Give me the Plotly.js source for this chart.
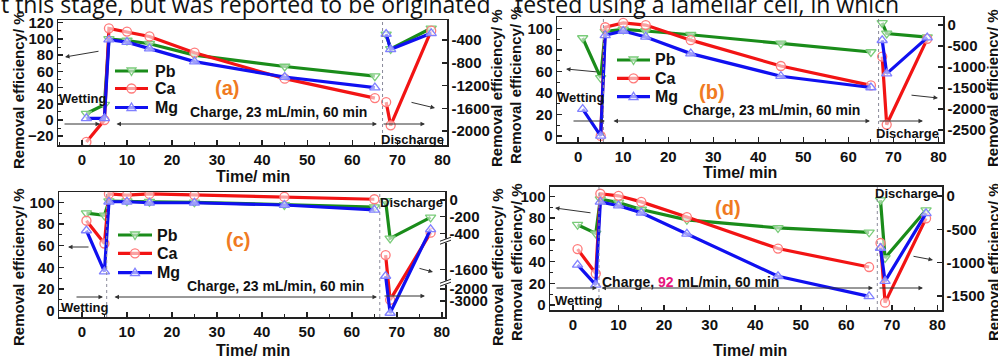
<!DOCTYPE html>
<html><head><meta charset="utf-8">
<script src="https://cdn.plot.ly/plotly-3.0.1.min.js"></script>
<style>html,body{margin:0;padding:0;background:#fff;}#chart{width:998px;height:356px;}</style>
</head><body><div id="chart"></div>
<script>
// ---------- data ----------
const xCharge = [1, 5, 6, 10, 15, 25, 45, 65];      // wetting + charge (left axis)
const xDischarge = [67.5, 68.5, 77.5];               // discharge (right axis)
const ions = ['Pb', 'Ca', 'Mg'];

// panel (a)
const aPbCharge = [8, 19, 100, 98, 94, 80, 66, 54];
const aCaCharge = [-27, 0, 113, 109, 103, 83, 51, 27];
const aMgCharge = [2, 2, 99, 96, 88, 72, 53, 40];
const aPbDischarge = [-300, -555, -194];
const aCaDischarge = [-1492, -1900, -236];
const aMgDischarge = [-294, -564, -283];
// panel (b)
const bPbCharge = [91, 54, 97, 99, 97.5, 94, 86, 78];
const bCaCharge = [null, 0, 101, 105, 103, 89, 65, 47];
const bMgCharge = [25, 0, 93.5, 97.5, 92, 76.5, 55.5, 45];
const bPbDischarge = [50, -202, -290];
const bCaDischarge = [-752, -2370, -330];
const bMgDischarge = [-364, -1157, -300];
// panel (c)  (right axis is broken)
const cPbCharge = [90, 88, 101, 101, 100.5, 100, 97.5, 95.5];
const cCaCharge = [83, 62, 107.7, 106.7, 107.7, 106.7, 105, 102.8];
const cMgCharge = [74, 36, 100.5, 100.5, 99.6, 99.6, 97.5, 93];
const cPbDischarge = [-10, -460, -208];
const cCaDischarge = [-1300, -2900, -392];
const cMgDischarge = [-1773, -4000, -352];
// panel (d)
const dPbCharge = [74, 66, 97.5, 94.5, 88, 78.5, 71, 67];
const dCaCharge = [51.5, 29, 102.5, 100.6, 95, 81, 52, 35];
const dMgCharge = [37, 18.6, 95, 91.5, 85, 65.5, 26.5, 8];
const dPbDischarge = [-60, -928, -210];
const dCaDischarge = [-705, -1600, -335];
const dMgDischarge = [-780, -1277, -260];

// tick labels
const xTickLabels = [0, 10, 20, 30, 40, 50, 60, 70, 80];
const aRightTicks = [-400, -800, -1200, -1600, -2000];
const bRightTicks = [0, -500, -1000, -1500, -2000, -2500];
const cRightTicks = [0, -200, -400, -1600, -2000, -3000];
const dRightTicks = [0, -500, -1000, -1500];

// broken right axis of panel (c): value -> display position (piecewise linear)
const cBreakValues  = [-4400, -3000, -2000, -1946, -1600, -1001, -488, 0, 300];
const cBreakDisplay = [-1414, -1212, -1068, -992, -832, -490, -488, 0, 300];
function mapC(v) {
  if (v === null) return null;
  for (let i = 0; i < cBreakValues.length - 1; i++) {
    const v0 = cBreakValues[i], v1 = cBreakValues[i + 1];
    if (v >= v0 && v <= v1) {
      const t = (v - v0) / (v1 - v0);
      return cBreakDisplay[i] + t * (cBreakDisplay[i + 1] - cBreakDisplay[i]);
    }
  }
  return v;
}

// ---------- styling ----------
const W = 998, H = 356;
const px = x => x / W, py = y => 1 - y / H;
const F = 'Liberation Sans, Arial, sans-serif';
const lineCol = {Pb: '#1a8c1a', Ca: '#f21414', Mg: '#1010f0'};
const mkCol = {Pb: '#7acc7a', Ca: '#ff7a7a', Mg: '#8080ff'};
const sym = {Pb: 'triangle-down', Ca: 'circle', Mg: 'triangle-up'};
const mkFill = 'rgba(255,255,255,0.6)';

const panels = [
  {key: 'a', xa: 'x',  yl: 'y',  yr: 'y2',
   charge: [aPbCharge, aCaCharge, aMgCharge], dis: [aPbDischarge, aCaDischarge, aMgDischarge], map: v => v},
  {key: 'b', xa: 'x2', yl: 'y3', yr: 'y4',
   charge: [bPbCharge, bCaCharge, bMgCharge], dis: [bPbDischarge, bCaDischarge, bMgDischarge], map: v => v},
  {key: 'c', xa: 'x3', yl: 'y5', yr: 'y6',
   charge: [cPbCharge, cCaCharge, cMgCharge], dis: [cPbDischarge, cCaDischarge, cMgDischarge], map: mapC},
  {key: 'd', xa: 'x4', yl: 'y7', yr: 'y8',
   charge: [dPbCharge, dCaCharge, dMgCharge], dis: [dPbDischarge, dCaDischarge, dMgDischarge], map: v => v},
];

const traces = [];
panels.forEach(p => {
  ions.forEach((ion, i) => {
    const style = {
      mode: 'lines+markers',
      line: {color: lineCol[ion], width: 3.2},
      marker: {symbol: sym[ion], size: 9, color: mkFill, line: {color: mkCol[ion], width: 1.3}},
      connectgaps: false, showlegend: false
    };
    traces.push(Object.assign({}, style, {x: xCharge, y: p.charge[i], xaxis: p.xa, yaxis: p.yl, name: ion}));
    traces.push(Object.assign({}, style, {x: xDischarge, y: p.dis[i].map(p.map), xaxis: p.xa, yaxis: p.yr, name: ion}));
  });
});

const tickFont = {family: F, size: 15, color: '#111', weight: 'bold'};
function xAxis(dom, range, anchor) {
  return {domain: dom, range: range, anchor: anchor, showline: true, mirror: true, linecolor: '#222', linewidth: 1.5,
    ticks: 'inside', ticklen: 5, tickwidth: 1.5, tickcolor: '#222', tickvals: xTickLabels,
    minor: {ticks: 'inside', ticklen: 3, tickwidth: 1, tickcolor: '#222', dtick: 5},
    showgrid: false, zeroline: false, tickfont: tickFont, fixedrange: true};
}
function yLeft(dom, range, anchor, tv) {
  return {domain: dom, range: range, anchor: anchor, showline: true, linecolor: '#222', linewidth: 1.5,
    ticks: 'inside', ticklen: 5, tickwidth: 1.5, tickcolor: '#222', tickvals: tv,
    minor: {ticks: 'inside', ticklen: 3, tickwidth: 1, tickcolor: '#222', dtick: 10},
    showgrid: false, zeroline: false, tickfont: tickFont, fixedrange: true};
}
function yRight(over, range, anchor, ticks, mapf) {
  return {overlaying: over, side: 'right', range: range, anchor: anchor, showline: true, linecolor: '#222', linewidth: 1.5,
    ticks: 'inside', ticklen: 5, tickwidth: 1.5, tickcolor: '#222',
    tickvals: ticks.map(mapf), ticktext: ticks.map(String),
    showgrid: false, zeroline: false, tickfont: tickFont, fixedrange: true};
}

const layout = {
  width: W, height: H, margin: {l: 0, r: 0, t: 0, b: 0}, paper_bgcolor: '#fff', plot_bgcolor: '#fff',
  showlegend: false,
  xaxis:  xAxis([px(58), px(447)], [-5.3, 81], 'y'),
  yaxis:  yLeft([py(145), py(20)], [-30.8, 123.3], 'x', [-20, 0, 20, 40, 60, 80, 100, 120]),
  yaxis2: yRight('y', [-2246, -48], 'x', aRightTicks, v => v),
  xaxis2: xAxis([px(557), px(943)], [-4.7, 81], 'y3'),
  yaxis3: yLeft([py(142), py(17)], [-5.6, 110.5], 'x2', [0, 20, 40, 60, 80, 100]),
  yaxis4: yRight('y3', [-2786, 190], 'x2', bRightTicks, v => v),
  xaxis3: xAxis([px(59), px(445)], [-5.1, 80.7], 'y5'),
  yaxis5: yLeft([py(317), py(192)], [-5.8, 109.5], 'x3', [0, 20, 40, 60, 80, 100]),
  yaxis6: yRight('y5', [-1404, 96], 'x3', cRightTicks, mapC),
  xaxis4: xAxis([px(550), px(942)], [-5.05, 81], 'y7'),
  yaxis7: yLeft([py(310), py(186.7)], [-4.6, 109], 'x4', [0, 20, 40, 60, 80, 100]),
  yaxis8: yRight('y7', [-1710, 140], 'x4', dRightTicks, v => v),
  annotations: [],
  shapes: []
};

const A = layout.annotations, S = layout.shapes;
function txt(t, x, y, size, color, extra) {
  A.push(Object.assign({text: t, x: px(x), y: py(y), xref: 'paper', yref: 'paper', xanchor: 'center', yanchor: 'middle',
    showarrow: false, font: {family: F, size: size, color: color || '#111', weight: 'bold'}}, extra || {}));
}
function arrow(tx, ty, tipx, tipy, both) {
  A.push({text: '', x: px(tipx), y: py(tipy), xref: 'paper', yref: 'paper', ax: tx - tipx, ay: ty - tipy,
    showarrow: true, arrowhead: 2, arrowsize: 0.9, arrowwidth: 1, arrowcolor: '#333', arrowside: both ? 'end+start' : 'end',
    standoff: 0, startstandoff: 0});
}
function ytitle(x, y) {
  txt('Removal efficiency/ %', x, y, 15, '#111', {textangle: -90});
}
function vdot(xref, yref, xv) {
  S.push({type: 'line', xref: xref, yref: yref + ' domain', x0: xv, x1: xv, y0: 0, y1: 1,
    line: {color: '#8a8a9a', width: 1, dash: 'dot'}});
}
// hand-drawn legend (line sample + open marker + label)
function markerPath(ion, cx, cy) {
  const r = 4.5;
  if (ion === 'Pb') return `M${px(cx - r)},${py(cy - 3)} L${px(cx + r)},${py(cy - 3)} L${px(cx)},${py(cy + 4.5)} Z`;
  if (ion === 'Mg') return `M${px(cx - r)},${py(cy + 3)} L${px(cx + r)},${py(cy + 3)} L${px(cx)},${py(cy - 4.5)} Z`;
  return null;
}
function legend(x0, x1, ys, tx) {
  ions.forEach((ion, i) => {
    const y = ys[i], cx = (x0 + x1) / 2;
    S.push({type: 'line', xref: 'paper', yref: 'paper', x0: px(x0), x1: px(x1), y0: py(y), y1: py(y),
      line: {color: lineCol[ion], width: 3.2}, layer: 'above'});
    if (ion === 'Ca') {
      S.push({type: 'circle', xref: 'paper', yref: 'paper', x0: px(cx - 4.5), x1: px(cx + 4.5), y0: py(y + 4.5), y1: py(y - 4.5),
        fillcolor: mkFill, line: {color: mkCol[ion], width: 1.3}, layer: 'above'});
    } else {
      S.push({type: 'path', xref: 'paper', yref: 'paper', path: markerPath(ion, cx, y),
        fillcolor: mkFill, line: {color: mkCol[ion], width: 1.3}, layer: 'above'});
    }
    txt(ion, tx, y, 16, '#111', {xanchor: 'left'});
  });
}

// top text (cut-off running text of the page)
const bodyFont = {family: 'Open Sans, Noto Sans, sans-serif', size: 23, color: '#111'};
txt('t this stage, but was reported to be originated', -1, 4, 23, '#111', {xanchor: 'left', font: bodyFont});
txt('tested using a lamellar cell, in which', 513, 4, 23, '#111', {xanchor: 'left', font: bodyFont});

// axis titles
ytitle(18, 90); ytitle(497, 88); ytitle(516, 85); ytitle(993, 88);
ytitle(18, 267); ytitle(497, 267); ytitle(516, 262); ytitle(993, 262);
txt('Time/ min', 253, 177, 16); txt('Time/ min', 740, 172, 16);
txt('Time/ min', 253, 350, 16); txt('Time/ min', 750, 350, 16);

const orange = '#f07a22';
// panel (a)
legend(115, 148, [71, 88.5, 107.5], 153);
txt('Wetting', 82, 98, 13); txt('(a)', 227, 88, 20, orange);
txt('Charge, 23 mL/min, 60 min', 278, 112, 14); txt('Discharge', 412, 139, 13);
arrow(63, 124, 100, 124); arrow(115, 124, 377, 124, true); arrow(382, 124, 425, 124);
arrow(100, 51, 65, 57); arrow(410, 102, 435, 108);
vdot('x', 'y', 66.7);
// panel (b)
legend(617, 650, [60, 78.3, 96.7], 653);
txt('Wetting', 580, 97, 13); txt('(b)', 712, 92, 20, orange);
txt('Charge, 23 mL/min, 60 min', 771, 110, 14); txt('Discharge', 907, 133, 13);
arrow(572, 121, 605, 121); arrow(612, 121, 870, 121, true); arrow(878, 121, 923, 121);
arrow(598, 72, 566, 69); arrow(910, 95, 938, 98);
vdot('x2', 'y3', 5.6); vdot('x2', 'y3', 66.7);
// panel (c)
legend(118, 152, [235, 253.3, 272.7], 155);
txt('Wetting', 84, 307, 13); txt('(c)', 238, 240, 20, orange);
txt('Charge, 23 mL/min, 60 min', 275, 286, 14); txt('Discharge', 411, 202, 13);
arrow(75, 297, 103, 297); arrow(113, 297, 377, 297, true); arrow(383, 296, 425, 296);
arrow(90, 247, 68, 247); arrow(418, 268, 433, 272);
vdot('x3', 'y5', 5.5); vdot('x3', 'y5', 66.2);
// broken-axis marks on the right axis of (c)
[240.7, 282.7].forEach(yb => {
  S.push({type: 'rect', xref: 'paper', yref: 'paper', x0: px(443), x1: px(448), y0: py(yb + 2), y1: py(yb - 2),
    fillcolor: '#fff', line: {width: 0}, layer: 'above'});
  S.push({type: 'line', xref: 'paper', yref: 'paper', x0: px(440), x1: px(451), y0: py(yb + 0.5), y1: py(yb - 3.5),
    line: {color: '#222', width: 1}, layer: 'above'});
  S.push({type: 'line', xref: 'paper', yref: 'paper', x0: px(440), x1: px(451), y0: py(yb + 3.5), y1: py(yb - 0.5),
    line: {color: '#222', width: 1}, layer: 'above'});
});
// panel (d)
txt('Wetting', 578, 300, 13); txt('(d)', 728, 208, 20, orange);
txt('Charge, <span style="color:#e8157d">92</span> mL/min, 60 min', 690, 282, 14); txt('Discharge', 906, 193, 13);
arrow(555, 288, 597, 288); arrow(600, 288, 873, 288, true); arrow(878, 288, 923, 288);
arrow(592, 213, 555, 208); arrow(912, 256, 933, 260);
vdot('x4', 'y7', 5.7); vdot('x4', 'y7', 66.8);

Plotly.newPlot('chart', traces, layout, {staticPlot: true, displayModeBar: false});
</script></body></html>
